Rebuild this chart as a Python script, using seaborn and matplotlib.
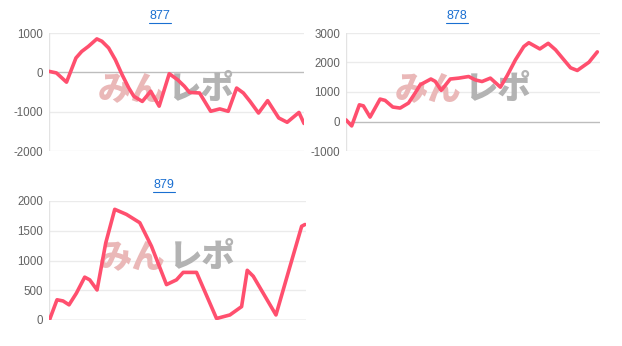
import matplotlib
matplotlib.use("Agg")
import matplotlib.pyplot as plt
import seaborn as sns
import pandas as pd

sns.set_theme(style="white")
plt.rcParams['font.family'] = ['Noto Sans CJK JP', 'DejaVu Sans']

titles = ["877", "878", "879"]

x877 = [148, 170, 200, 228, 245, 265, 290, 305, 325, 345, 365, 385, 400, 425, 450, 475, 505, 530,
        550, 565, 595, 628, 655, 680, 705, 725, 745, 770, 797, 830, 855, 890, 905]
y877 = [25, -15, -250, 365, 530, 660, 850, 790, 620, 320, -60, -400, -610, -740, -480, -860, -35, -190,
        -355, -510, -525, -990, -930, -990, -400, -525, -740, -1035, -720, -1160, -1270, -1020, -1300]

x878 = [108, 125, 148, 160, 180, 210, 225, 248, 270, 295, 315, 330, 362, 375, 393, 420, 445, 475, 495,
        515, 540, 570, 590, 615, 640, 655, 688, 713, 735, 760, 780, 800, 835, 860]
y878 = [55, -150, 565, 530, 150, 760, 715, 490, 455, 625, 965, 1245, 1440, 1360, 1055, 1440, 1470, 1525,
        1410, 1355, 1470, 1165, 1550, 2090, 2540, 2670, 2460, 2650, 2430, 2090, 1820, 1730, 2010, 2360]

x879 = [150, 172, 190, 208, 230, 255, 270, 292, 318, 345, 380, 420, 455, 500, 530, 550, 590, 650, 690,
        725, 742, 760, 828, 870, 905, 915]
y879 = [10, 340, 320, 255, 450, 720, 675, 505, 1295, 1860, 1775, 1635, 1240, 595, 675, 800, 800, 25, 85,
        225, 835, 735, 85, 900, 1575, 1605]

ylims = [(-2000, 1000), (-1000, 3000), (0, 2000)]
yticks = [[-2000, -1000, 0, 1000], [-1000, 0, 1000, 2000, 3000], [0, 500, 1000, 1500, 2000]]
xlims = [(148, 905), (108, 868), (148, 918)]

W, H = 622, 346
fig = plt.figure(figsize=(W / 100, H / 100), dpi=100)

boxes = [(49, 304, 33, 151), (346, 600, 33, 151), (49, 306, 201, 320)]
series = [(x877, y877), (x878, y878), (x879, y879)]
title_pos = [(160, 16), (457, 16), (164, 185)]

line_color = "#ff4f6e"
for i, ((l, r, t, b), (xs, ys)) in enumerate(zip(boxes, series)):
    ax = fig.add_axes([l / W, 1 - b / H, (r - l) / W, (b - t) / H])
    df = pd.DataFrame({"x": xs, "y": ys})
    for v in yticks[i]:
        c = "#bdbdbd" if v == 0 else "#ebebeb"
        ax.axhline(v, color=c, lw=1.0, zorder=1)
    ax.axvline(xlims[i][0], color="#e3e3e3", lw=1.0, zorder=1)
    # watermark
    split = ((l + r) / 2 - 12 - l) / (r - l)
    ax.text(split, 0.53, "みん", transform=ax.transAxes, ha="right", va="center",
            fontsize=24, fontweight="heavy", color="#eab8b8", zorder=2)
    ax.text(split + 0.015, 0.53, "レポ", transform=ax.transAxes, ha="left", va="center",
            fontsize=24, fontweight="heavy", color="#b3b3b3", zorder=2)
    sns.lineplot(data=df, x="x", y="y", ax=ax, color=line_color, lw=2.6,
                 solid_joinstyle="round", solid_capstyle="round")
    ax.lines[-1].set_zorder(10)
    ax.set_xlim(*xlims[i])
    ax.set_ylim(*ylims[i])
    ax.set_yticks(yticks[i])
    ax.set_yticklabels([str(v) for v in yticks[i]], color="#626262", fontsize=8.3,
                       family=['Liberation Sans', 'DejaVu Sans'])
    ax.set_xticks([])
    ax.set_xlabel("")
    ax.set_ylabel("")
    ax.tick_params(axis="y", length=0, pad=4)
    for s in ax.spines.values():
        s.set_visible(False)
    ax.patch.set_alpha(0)
    # title
    tx, ty = title_pos[i]
    cx = tx / W
    fig.text(cx, 1 - ty / H, titles[i], ha="center", va="center", fontsize=9,
             color="#1a6fd1", family=['Liberation Sans', 'DejaVu Sans'])
    fig.add_artist(plt.Line2D([cx - 0.017, cx + 0.017], [1 - (ty + 6.5) / H] * 2,
                              color="#1a6fd1", lw=0.8))

fig.savefig("out.png", dpi=100)
